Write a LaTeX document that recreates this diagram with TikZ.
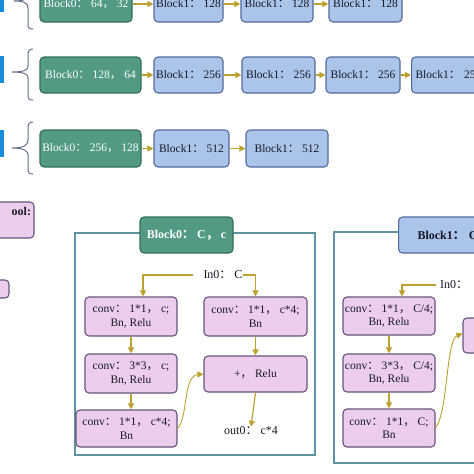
\documentclass[tikz,border=0pt]{standalone}
\usepackage{fontspec}
\setmainfont{Liberation Serif}
\newfontfamily\cjk{Noto Sans CJK SC}
\usetikzlibrary{arrows.meta}
\newcommand\zc{{\cjk ：}\ }
\newcommand\zm{{\cjk ，}\ }
\definecolor{gfill}{RGB}{82,154,132}
\definecolor{gdraw}{RGB}{52,110,92}
\definecolor{bfill}{RGB}{170,196,234}
\definecolor{bdraw}{RGB}{84,104,156}
\definecolor{pfill}{RGB}{236,206,236}
\definecolor{pdraw}{RGB}{100,84,126}
\definecolor{gold}{RGB}{188,160,48}
\definecolor{frm}{RGB}{96,148,164}
\definecolor{bar}{RGB}{24,140,220}
\definecolor{brc}{RGB}{100,112,140}
\definecolor{txt}{RGB}{25,25,40}
\tikzset{
  box/.style={rounded corners=4pt, line width=1.1pt, inner sep=0pt, align=center},
  gbox/.style={box, fill=gfill, draw=gdraw, text=white, minimum height=36pt, font=\fontsize{11.5}{13}\selectfont},
  bbox/.style={box, fill=bfill, draw=bdraw, text=txt, minimum height=36pt, font=\fontsize{11.5}{13}\selectfont},
  pbox/.style={box, fill=pfill, draw=pdraw, text=txt, font=\fontsize{11.5}{13.5}\selectfont},
  lbl/.style={inner sep=0pt, text=txt, font=\fontsize{12}{13.5}\selectfont},
  arr/.style={draw=gold, line width=1.2pt, -{Triangle[length=6pt,width=6pt]}},
  brace/.style={draw=brc, line width=1pt},
  frame/.style={draw=frm, line width=1.1pt},
}
\begin{document}
\begin{tikzpicture}[x=1pt,y=-1pt]
\clip (0,0) rectangle (474,474);
\fill[white] (0,0) rectangle (474,474);

% left blue bars
\fill[bar] (-2,-10) rectangle (4,12);
\fill[bar] (-2,56) rectangle (4,83);
\fill[bar] (-2,130) rectangle (4,157);

% braces
\draw[brace] (33,-22) .. controls (29,-22) and (28,-20) .. (28,-14) -- (28,-6) .. controls (28,-1) and (24,1) .. (14,1) .. controls (24,1) and (28,3) .. (28,8) -- (28,24) .. controls (28,28) and (29,29) .. (33,29);
\draw[brace] (33,49) .. controls (29,49) and (28,51) .. (28,56) -- (28,66) .. controls (28,70) and (24,72) .. (12,72) .. controls (24,72) and (28,74) .. (28,78) -- (28,94) .. controls (28,99) and (29,100) .. (33,100);
\draw[brace] (33,122) .. controls (29,122) and (28,124) .. (28,129) -- (28,140) .. controls (28,145) and (24,148) .. (12,148) .. controls (24,148) and (28,151) .. (28,155) -- (28,168) .. controls (28,173) and (29,174) .. (33,174);

% row 1
\node[gbox, minimum width=92pt] (g1) at (86,4) {Block0\zc 64\zm 32};
\node[bbox, minimum width=69pt] (a1) at (188.5,4) {Block1\zc 128};
\node[bbox, minimum width=72pt] (a2) at (277,4) {Block1\zc 128};
\node[bbox, minimum width=73pt] (a3) at (365.5,4) {Block1\zc 128};
\draw[arr] (g1) -- (a1);
\draw[arr] (a1) -- (a2);
\draw[arr] (a2) -- (a3);

% row 2
\node[gbox, minimum width=101pt] (g2) at (90.5,75) {Block0\zc 128\zm 64};
\node[bbox, minimum width=69pt] (b1) at (188.5,75) {Block1\zc 256};
\node[bbox, minimum width=73pt] (b2) at (278.5,75) {Block1\zc 256};
\node[bbox, minimum width=74pt] (b3) at (363,75) {Block1\zc 256};
\node[bbox, minimum width=79pt, text width=72pt, align=left, inner xsep=4pt, anchor=west] (b4) at (411,75) {Block1\zc 256};
\draw[arr] (g2) -- (b1);
\draw[arr] (b1) -- (b2);
\draw[arr] (b2) -- (b3);
\draw[arr] (b3) -- (b4);

% row 3
\node[gbox, minimum width=101pt, minimum height=37pt] (g3) at (90.5,148.5) {Block0\zc 256\zm 128};
\node[bbox, minimum width=75pt, minimum height=37pt] (c1) at (191.5,148.5) {Block1\zc 512};
\node[bbox, minimum width=82pt, minimum height=37pt] (c2) at (287,148.5) {Block1\zc 512};
\draw[arr] (g3) -- (c1);
\draw[arr] (c1) -- (c2);

% left pink boxes (cut)
\node[pbox, minimum width=46pt, minimum height=36pt, text width=40pt, align=right, inner xsep=3pt, font=\bfseries\fontsize{12}{13.5}\selectfont] (pool) at (11,220) {ool:\\ \strut};
\node[pbox, minimum width=22pt, minimum height=18pt] (pl2) at (-2,289) {};

% Block0 frame
\draw[frame] (75,233) rectangle (315,455);
\node[gbox, minimum width=93pt, font=\bfseries\fontsize{12}{13}\selectfont] (h0) at (186.5,235) {Block0\zc C\zm c};
\node[lbl] (in0) at (223,275) {In0\zc C};
\node[pbox, minimum width=92pt, minimum height=39pt] (L1) at (131,316.5) {conv\zc 1*1\zm c;\\Bn, Relu};
\node[pbox, minimum width=92pt, minimum height=39pt] (L2) at (131,373.5) {conv\zc 3*3\zm c;\\Bn, Relu};
\node[pbox, minimum width=101pt, minimum height=37pt] (L3) at (126.5,428.5) {conv\zc 1*1\zm c*4;\\Bn};
\node[pbox, minimum width=103pt, minimum height=39pt] (R1) at (255.5,316.5) {conv\zc 1*1\zm c*4;\\Bn};
\node[pbox, minimum width=103pt, minimum height=36pt] (R2) at (255.5,374) {+\zm Relu};
\node[lbl] (out0) at (251,431) {out0\zc c*4};
\draw[arr] ([xshift=-10pt]in0.west) -| ([xshift=12pt]L1.north);
\draw[arr] (in0.east) -| (R1.north);
\draw[arr] (L1.south) -- (L2.north);
\draw[arr] (L2.south) -- (L2.south |- L3.north);
\draw[arr] (R1.south) -- (R2.north);
\draw[arr] (R2.south) -- (out0.north);
\draw[arr, line width=0.9pt] (L3.east) .. controls (188,418) and (183,376) .. (R2.west);

% Block1 frame
\draw[frame] (334,232) rectangle (490,463);
\node[box, fill=bfill, draw=bdraw, text=txt, minimum height=36pt, text width=90pt, align=left, inner xsep=19pt, anchor=west, font=\bfseries\fontsize{12}{13}\selectfont] (h1) at (398,235) {Block1\zc C};
\node[lbl, anchor=west] (in1) at (440,285) {In0\zc};
\node[pbox, minimum width=92pt, minimum height=38pt] (M1) at (389,316) {conv\zc 1*1\zm C/4;\\Bn, Relu};
\node[pbox, minimum width=92pt, minimum height=38pt] (M2) at (389,373) {conv\zc 3*3\zm C/4;\\Bn, Relu};
\node[pbox, minimum width=92pt, minimum height=38pt] (M3) at (389,428) {conv\zc 1*1\zm C;\\Bn};
\node[pbox, minimum width=47pt, minimum height=35pt] (N2) at (486.5,335.5) {};
\draw[arr] ([xshift=-4pt]in1.west) -| ([xshift=13pt]M1.north);
\draw[arr] (M1.south) -- (M2.north);
\draw[arr] (M2.south) -- (M3.north);
\draw[arr, line width=0.9pt] (M3.east) .. controls (448,412) and (446,340) .. ([yshift=2pt]N2.west);
\end{tikzpicture}
\end{document}
